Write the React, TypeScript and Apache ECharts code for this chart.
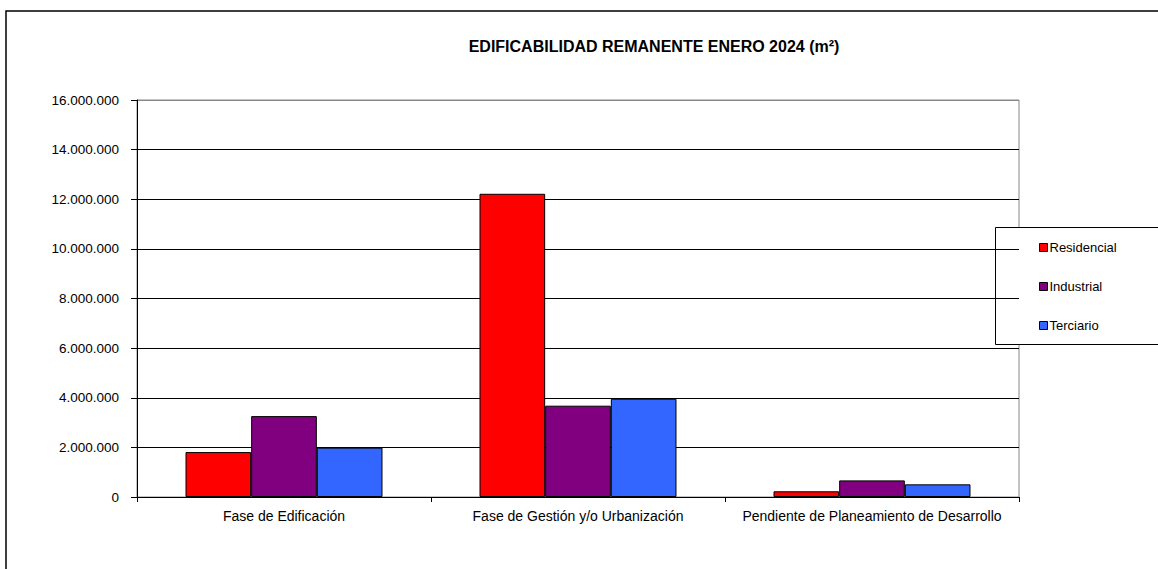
import React, { useEffect, useRef } from "react";
import * as echarts from "echarts";

const categories = [
  "Fase de Edificación",
  "Fase de Gestión y/o Urbanización",
  "Pendiente de Planeamiento de Desarrollo",
];
const residencial = [1810000, 12220000, 230000];
const industrial = [3260000, 3680000, 670000];
const terciario = [1990000, 3960000, 510000];
const seriesNames = ["Residencial", "Industrial", "Terciario"];
const seriesColors = ["#FF0000", "#800080", "#3366FF"];
const titleText = "EDIFICABILIDAD REMANENTE ENERO 2024 (m²)";

const fmt = (v: number) => String(Math.round(v)).replace(/\B(?=(\d{3})+(?!\d))/g, ".");

export default function App() {
  const ref = useRef<HTMLDivElement>(null);
  useEffect(() => {
    if (!ref.current) return;
    const chart = echarts.init(ref.current, undefined, { renderer: "svg" });
    const font = "'Liberation Sans', Arial, sans-serif";
    const dataSets = [residencial, industrial, terciario];
    chart.setOption({
      animation: false,
      backgroundColor: "#ffffff",
      textStyle: { fontFamily: font },
      title: {
        text: titleText,
        left: 649,
        top: 33,
        textAlign: "center",
        textStyle: { fontFamily: font, fontSize: 16, fontWeight: "bold", color: "#000" },
      },
      graphic: [
        {
          type: "rect",
          shape: { x: 6, y: 11, width: 1200, height: 620 },
          style: { fill: "none", stroke: "#000", lineWidth: 1.5 },
          silent: true,
        },
        {
          type: "rect",
          shape: { x: 995.5, y: 227.5, width: 170, height: 117 },
          style: { fill: "#fff", stroke: "#000", lineWidth: 1 },
          silent: true,
          z: 0,
        },
      ],
      legend: {
        orient: "vertical",
        left: 1039,
        top: 241,
        itemWidth: 8,
        itemHeight: 8,
        itemGap: 26,
        icon: "rect",
        padding: 0,
        z: 10,
        itemStyle: { borderColor: "#000", borderWidth: 1 },
        textStyle: { fontFamily: font, fontSize: 13, color: "#000", padding: [0, 0, 0, -3] },
        data: seriesNames,
      },
      grid: {
        left: 137,
        top: 100,
        width: 882,
        height: 397,
        show: true,
        borderColor: "#888",
        borderWidth: 1,
        backgroundColor: "transparent",
      },
      xAxis: {
        type: "category",
        data: categories,
        axisLine: { lineStyle: { color: "#000", width: 1 } },
        axisTick: { show: true, length: 5, lineStyle: { color: "#000" } },
        axisLabel: { color: "#000", fontSize: 14, margin: 12, interval: 0, fontFamily: font },
      },
      yAxis: {
        type: "value",
        min: 0,
        max: 16000000,
        interval: 2000000,
        axisLine: { show: true, lineStyle: { color: "#000", width: 1 } },
        axisTick: { show: true, length: 6, lineStyle: { color: "#000" } },
        axisLabel: { color: "#000", fontSize: 13.5, margin: 18, fontFamily: font, formatter: (v: number) => fmt(v) },
        splitLine: {
          show: true,
          lineStyle: { color: ["#000", "#000", "#000", "#000", "#000", "#000", "#000", "#000", "#888"], width: 1 },
        },
      },
      series: seriesNames.map((name, i) => ({
        name,
        type: "bar",
        data: dataSets[i],
        barGap: "0%",
        barCategoryGap: "33%",
        itemStyle: { color: seriesColors[i], borderColor: "#000", borderWidth: 1 },
      })),
    });
    return () => chart.dispose();
  }, []);
  return (
    <div
      ref={ref}
      style={{ position: "fixed", left: 0, top: 0, width: 1158, height: 569 }}
    />
  );
}
